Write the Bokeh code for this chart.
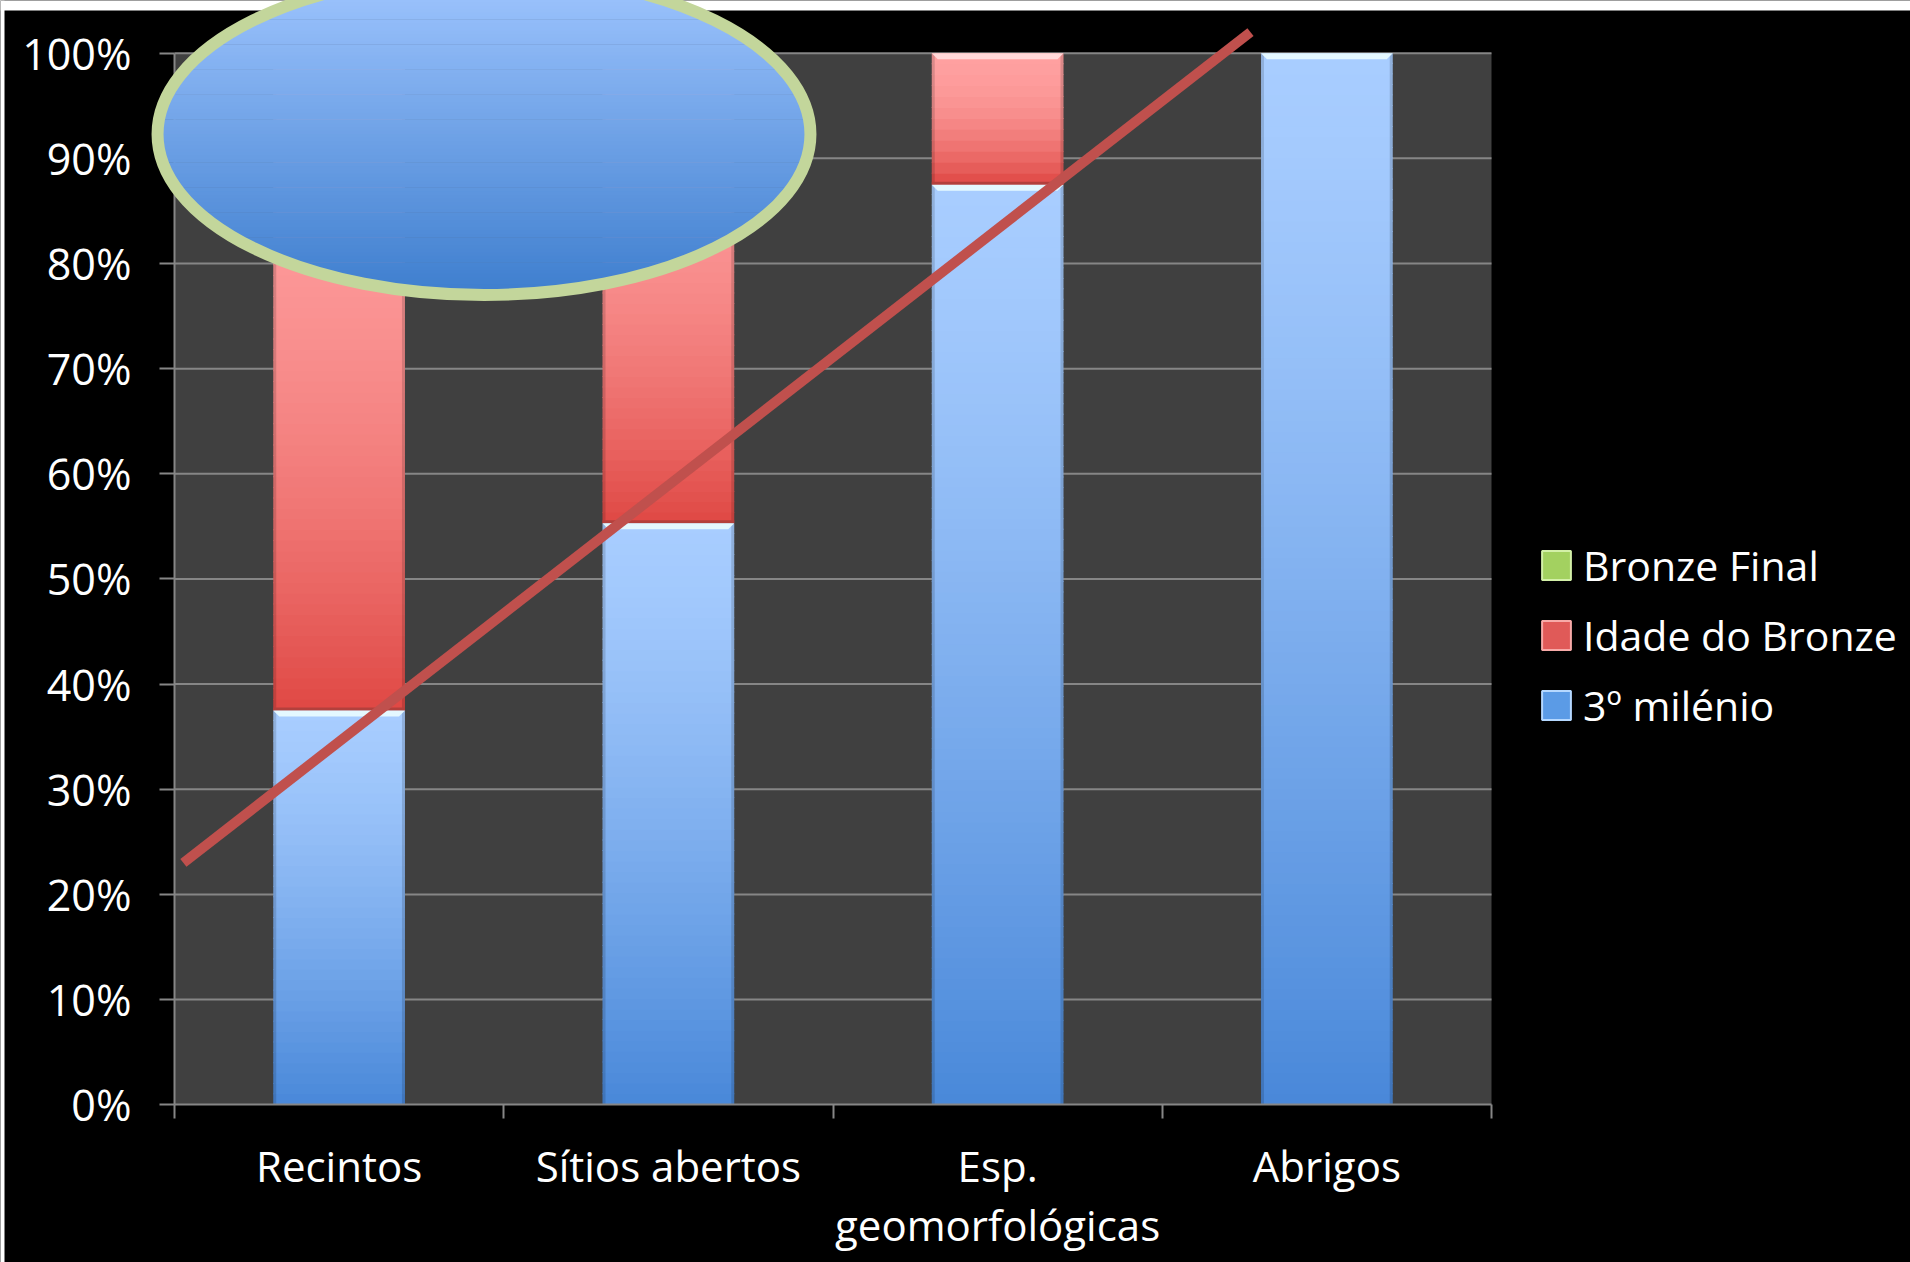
import numpy as np
from bokeh.plotting import figure
from bokeh.models import (Range1d, FixedTicker, LinearAxis, PrintfTickFormatter,
                          Legend, LegendItem)
from bokeh.embed import file_html
from bokeh.resources import INLINE

# ---- dados ----
categories = ["Recintos", "Sítios abertos", "Esp. geomorfológicas", "Abrigos"]
category_tick_labels = ["Recintos", "Sítios abertos", "Esp.\ngeomorfológicas", "Abrigos"]
terceiro_milenio = [37.5, 55.3, 87.5, 100.0]
idade_do_bronze = [62.5, 44.7, 12.5, 0.0]
bronze_final = [0.0, 0.0, 0.0, 0.0]
series_labels = ["3º milénio", "Idade do Bronze", "Bronze Final"]
pct_ticks = list(range(0, 101, 10))

# hand-drawn marks laid over the chart, in axis units
stroke_x = [0.027, 3.268]
stroke_y = [23.0, 102.0]
ellipse_center = (0.94, 92.3)
ellipse_size = (1.983, 30.6)

# ---- canvas geometry ----
W, H = 1910, 1262
PLOT_L, PLOT_R = 174.0, 1491.0
PLOT_B, PLOT_T = 1104.2, 52.7
NCAT = len(categories)
ux = NCAT / (PLOT_R - PLOT_L)
uy = 100.0 / (PLOT_B - PLOT_T)


def X(px):
    return (px - PLOT_L) * ux


def Y(py):
    return (PLOT_B - py) * uy


def mix(c1, c2, t):
    return "#%02x%02x%02x" % tuple(int(round(a + (b - a) * t)) for a, b in zip(c1, c2))


FONT = "Open Sans"
GRID = "#868686"

p = figure(width=W, height=H,
           x_range=Range1d(X(0), X(W)), y_range=Range1d(Y(H), Y(0)),
           x_axis_type=None, y_axis_type=None,
           toolbar_location=None, output_backend="svg",
           min_border=0, background_fill_color="black",
           border_fill_color="black", outline_line_color=None)

# white page edges
p.quad(left=[X(0), X(0)], right=[X(W), X(4)], bottom=[Y(10), Y(H)], top=[Y(0), Y(0)],
       fill_color="white", line_color=None)

# plot area
p.quad(left=[0], right=[NCAT], bottom=[0], top=[100], fill_color="#404040", line_color=None)

# horizontal gridlines
gl = pct_ticks[1:]
p.segment(x0=[0] * len(gl), x1=[NCAT] * len(gl), y0=gl, y1=gl,
          line_color=GRID, line_width=2)

# ---- stacked bars with vertical gradient ----
BAR_W = 0.4
styles = [
    # (values, top colour, bottom colour, highlight, bottom edge, shading curve)
    (terceiro_milenio, (168, 205, 255), (73, 136, 217), "#e4f8ff", None, 1.3),
    (idade_do_bronze, (255, 160, 160), (223, 72, 68), "#ffd8d8", "#b3403c", 2.0),
    (bronze_final, (205, 235, 150), (140, 190, 70), "#eefbd8", None, 1.3),
]

sl, sr, sb, st, sc = [], [], [], [], []
el, er, eb, et = [], [], [], []
hx, hy, hc = [], [], []
bl, br, bb, bt, bc = [], [], [], [], []
edge_w = 3 * ux
hi_h = 6 * uy
hi_d = 6 * ux
base = [0.0] * NCAT
for vals, ctop, cbot, chi, cedge, curve in styles:
    for i, v in enumerate(vals):
        if v <= 0:
            continue
        l, r = i + 0.5 - BAR_W / 2, i + 0.5 + BAR_W / 2
        b, t = base[i], base[i] + v
        n = max(6, int(round(v)))
        ed = np.linspace(b, t, n + 1)
        for k in range(n):
            sl.append(l); sr.append(r)
            sb.append(ed[k]); st.append(min(t, ed[k + 1] + 0.08))
            f = (k + 0.5) / n
            sc.append(mix(cbot, ctop, 1 - (1 - f) ** curve))
        el += [l, r - edge_w]; er += [l + edge_w, r]; eb += [b, b]; et += [t, t]
        hx.append([l, r, r - hi_d, l + hi_d]); hy.append([t, t, t - hi_h, t - hi_h]); hc.append(chi)
        if cedge is not None:
            bl.append(l); br.append(r); bb.append(b); bt.append(b + 3 * uy); bc.append(cedge)
        base[i] = t

p.quad(left=sl, right=sr, bottom=sb, top=st, fill_color=sc, line_color=None)
p.quad(left=el, right=er, bottom=eb, top=et, fill_color="black", fill_alpha=0.14, line_color=None)
if bl:
    p.quad(left=bl, right=br, bottom=bb, top=bt, fill_color=bc, line_color=None)
p.patches(xs=hx, ys=hy, fill_color=hc, line_color=None)

# ---- axes ----
yaxis = LinearAxis(fixed_location=0, bounds=(0, 100),
                   ticker=FixedTicker(ticks=pct_ticks, minor_ticks=[]),
                   formatter=PrintfTickFormatter(format="%d%%"),
                   axis_line_color=GRID, axis_line_width=2,
                   major_tick_line_color=GRID, major_tick_line_width=2,
                   major_tick_in=0, major_tick_out=15, minor_tick_in=0, minor_tick_out=0,
                   major_label_standoff=28,
                   major_label_text_font=FONT, major_label_text_font_size="43px",
                   major_label_text_color="white")
p.add_layout(yaxis, "left")

cat_centers = [i + 0.5 for i in range(NCAT)]
xaxis = LinearAxis(fixed_location=0, bounds=(0, NCAT),
                   ticker=FixedTicker(ticks=cat_centers, minor_ticks=list(range(NCAT + 1))),
                   major_label_overrides={c: lab for c, lab in zip(cat_centers, category_tick_labels)},
                   axis_line_color=GRID, axis_line_width=2,
                   major_tick_in=0, major_tick_out=0,
                   minor_tick_line_color=GRID, minor_tick_line_width=2,
                   minor_tick_in=0, minor_tick_out=14,
                   major_label_standoff=18,
                   major_label_text_font=FONT, major_label_text_font_size="42px",
                   major_label_text_color="white", major_label_text_line_height=1.04)
p.add_layout(xaxis, "below")

# ---- hand-drawn stroke and ellipse ----
p.line(stroke_x, stroke_y, line_color="#c0504d", line_width=10, line_cap="butt")

ecx, ecy = ellipse_center
ew, eh = ellipse_size
n_e = 90
edges = np.linspace(ecy - eh / 2, ecy + eh / 2, n_e + 1)
exs, eys, ecs = [], [], []
e_top, e_bot = (160, 198, 255), (62, 126, 206)
for k in range(n_e):
    y0, y1 = edges[k], min(edges[k + 1] + 0.06, ecy + eh / 2)
    yy = np.linspace(y0, y1, 6)
    half = (ew / 2) * np.sqrt(np.clip(1 - ((yy - ecy) / (eh / 2)) ** 2, 0, 1))
    exs.append(list(ecx - half) + list((ecx + half)[::-1]))
    eys.append(list(yy) + list(yy[::-1]))
    ecs.append(mix(e_bot, e_top, (k + 0.5) / n_e))
r_fill = p.patches(xs=exs, ys=eys, fill_color=ecs, line_color=None)
r_fill.level = "overlay"
r_ring = p.ellipse(x=[ecx], y=[ecy], width=[ew], height=[eh], fill_color=None,
                   line_color="#c3d69b", line_width=12)
r_ring.level = "overlay"

# ---- legend (zero-area swatch renderers) ----
swatches = {
    "Bronze Final": ("#a3d160", "#d3f0a8"),
    "Idade do Bronze": ("#e05a58", "#f7aaa8"),
    "3º milénio": ("#5b9be6", "#b5d8ff"),
}
items = []
for name in reversed(series_labels):
    fc, lc = swatches[name]
    rr = p.quad(left=[0], right=[0], bottom=[0], top=[0], fill_color=fc, line_color=lc,
                line_width=2)
    items.append(LegendItem(label=name, renderers=[rr]))

legend = Legend(items=items, location=(1538, 529), orientation="vertical",
                glyph_width=36, glyph_height=36, label_height=50, spacing=14,
                label_standoff=9, padding=0, margin=0,
                label_text_font=FONT, label_text_font_size="41px", label_text_color="white",
                border_line_color=None, background_fill_alpha=0)
p.add_layout(legend)

open("out.html", "w").write(file_html(p, INLINE))
